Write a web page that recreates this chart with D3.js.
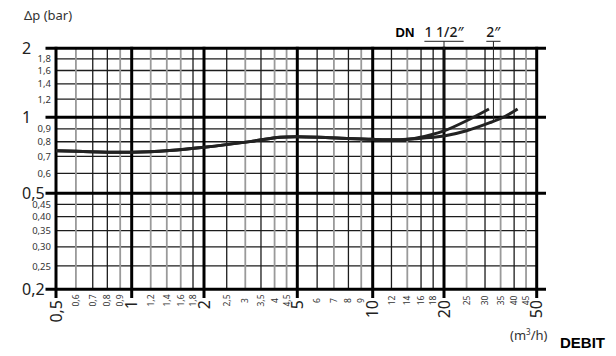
<!DOCTYPE html>
<html><head><meta charset="utf-8">
<script src="https://cdn.jsdelivr.net/npm/d3@7"></script>
<style>body{margin:0;background:#fff}svg{display:block}</style>
</head><body>
<svg id="c" width="616" height="356"></svg>
<script>
// ---- data ----
const xMajor = [0.5, 1, 2, 5, 10, 20, 50];
const xMajorLabels = ["0,5", "1", "2", "5", "10", "20", "50"];
const xMinor = [0.6, 0.7, 0.8, 0.9, 1.2, 1.4, 1.6, 1.8, 2.5, 3, 3.5, 4, 4.5, 6, 7, 8, 9, 12, 14, 16, 18, 25, 30, 35, 40, 45];
const xMinorLabels = ["0,6", "0,7", "0,8", "0,9", "1,2", "1,4", "1,6", "1,8", "2,5", "3", "3,5", "4", "4,5", "6", "7", "8", "9", "12", "14", "16", "18", "25", "30", "35", "40", "45"];
const yMajor = [0.2, 0.5, 1, 2];
const yMajorLabels = ["0,2", "0,5", "1", "2"];
const yMinor = [0.25, 0.3, 0.35, 0.4, 0.45, 0.6, 0.7, 0.8, 0.9, 1.2, 1.4, 1.6, 1.8];
const yMinorLabels = ["0,25", "0,30", "0,35", "0,40", "0,45", "0,6", "0,7", "0,8", "0,9", "1,2", "1,4", "1,6", "1,8"];

const flowDN40 = [0.5, 0.68, 1, 1.44, 2, 3.14, 4.22, 5, 6.75, 10, 13, 14.4, 17.5, 20, 25, 31.2];
const dpDN40   = [0.737, 0.731, 0.727, 0.739, 0.761, 0.801, 0.834, 0.838, 0.830, 0.818, 0.815, 0.820, 0.851, 0.883, 0.969, 1.087];
const flowDN50 = [0.5, 0.68, 1, 1.44, 2, 3.14, 4.22, 5, 6.75, 10, 13, 14.4, 17.5, 20, 25, 31.5, 36.5, 41.4];
const dpDN50   = [0.737, 0.731, 0.727, 0.739, 0.761, 0.801, 0.834, 0.838, 0.830, 0.818, 0.815, 0.820, 0.832, 0.843, 0.885, 0.952, 1.008, 1.087];

const dnLabels = ["1 1/2\u2033", "2\u2033"];
const dnMarkFlow = [20, 32.6];
const dnMarkDp = [0.883, 0.97];

// style: lighter minor verticals
const lightX = [0.6, 0.9, 1.2, 1.4, 1.6, 3, 4, 4.5, 7, 9, 14, 25, 35, 45];

// ---- scales ----
const x = d3.scaleLog().domain(xMajor).range([56, 131.7, 204, 297.3, 372.7, 444, 536.7]);
const y = d3.scaleLog().domain(yMajor).range([289.3, 193.3, 117.3, 48.3]);

const svg = d3.select("#c");
const dark = "#1c1c1c";
const font = "'Noto Sans', sans-serif";
const yTop = y(2), yBot = y(0.2), xLeft = x(0.5), xRight = x(50);

// minor horizontal grid
svg.append("g").selectAll("line").data(yMinor).join("line")
  .attr("x1", xLeft).attr("x2", xRight).attr("y1", d => y(d)).attr("y2", d => y(d))
  .attr("stroke", dark).attr("stroke-width", 1.3);
// minor vertical grid
svg.append("g").selectAll("line").data(xMinor).join("line")
  .attr("x1", d => x(d)).attr("x2", d => x(d)).attr("y1", yTop).attr("y2", yBot)
  .attr("stroke", d => lightX.includes(d) ? "#9a9a9a" : dark)
  .attr("stroke-width", d => lightX.includes(d) ? 1.8 : 1.3);
// major horizontal
svg.append("g").selectAll("line").data(yMajor).join("line")
  .attr("x1", 45.5).attr("x2", 546).attr("y1", d => y(d)).attr("y2", d => y(d))
  .attr("stroke", "#000").attr("stroke-width", 3);
// major vertical
svg.append("g").selectAll("line").data(xMajor).join("line")
  .attr("x1", d => x(d)).attr("x2", d => x(d)).attr("y1", yTop - 1.5).attr("y2", 298)
  .attr("stroke", "#000").attr("stroke-width", 3);

// curves
const line = d3.line().x(d => x(d[0])).y(d => y(d[1])).curve(d3.curveCatmullRom.alpha(0.5));
[[flowDN40, dpDN40], [flowDN50, dpDN50]].forEach(([f, p]) => {
  svg.append("path").datum(f.map((v, i) => [v, p[i]]))
    .attr("d", line).attr("fill", "none").attr("stroke", "#222").attr("stroke-width", 3);
});

// y labels
svg.append("g").selectAll("text").data(yMajor).join("text")
  .attr("x", 22).attr("y", d => y(d)).attr("dy", "0.36em")
  .attr("font-family", font).attr("font-size", 16).attr("fill", "#222")
  .text((d, i) => yMajorLabels[i]);
svg.append("g").selectAll("text").data(yMinor).join("text")
  .attr("x", 51).attr("y", d => y(d)).attr("dy", "0.38em").attr("text-anchor", "end")
  .attr("font-family", font).attr("font-size", 9.5).attr("fill", "#333")
  .text((d, i) => yMinorLabels[i]);

// x labels (rotated)
svg.append("g").selectAll("text").data(xMajor).join("text")
  .attr("transform", d => `translate(${x(d)},300) rotate(-90)`)
  .attr("text-anchor", "end").attr("dy", "0.36em")
  .attr("font-family", font).attr("font-size", 16).attr("fill", "#222")
  .text((d, i) => xMajorLabels[i]);
svg.append("g").selectAll("text").data(xMinor).join("text")
  .attr("transform", d => `translate(${x(d)},300.5) rotate(-90)`)
  .attr("text-anchor", "middle").attr("dy", "0.36em")
  .attr("font-family", font).attr("font-size", 8.5).attr("fill", "#333")
  .text((d, i) => xMinorLabels[i]);

// axis titles
svg.append("text").attr("x", 24).attr("y", 19.5)
  .attr("font-family", font).attr("font-size", 13).attr("fill", "#333").text("\u0394p (bar)");
const unit = svg.append("text").attr("x", 510).attr("y", 340)
  .attr("font-family", font).attr("font-size", 13).attr("fill", "#333");
unit.append("tspan").text("(m");
unit.append("tspan").attr("font-size", 8).attr("dy", -5).text("3");
unit.append("tspan").attr("dy", 5).text("/h)");
svg.append("text").attr("x", 560).attr("y", 347.5)
  .attr("font-family", "'Liberation Sans', Arial, sans-serif").attr("font-weight", "bold")
  .attr("font-size", 15).attr("fill", "#000").text("DEBIT");

// DN labels
svg.append("text").attr("x", 395.5).attr("y", 37.3)
  .attr("font-family", "'Liberation Sans', Arial, sans-serif").attr("font-weight", "bold")
  .attr("font-size", 13).attr("fill", "#000").text("DN");
dnLabels.forEach((lab, i) => {
  const cx = x(dnMarkFlow[i]);
  const t = svg.append("text").attr("x", cx).attr("y", 37.3).attr("text-anchor", "middle")
    .attr("font-family", font).attr("font-weight", 500).attr("font-size", 14).attr("fill", "#1a1a1a").text(lab);
  const w = t.node().getComputedTextLength();
  svg.append("line").attr("x1", cx - w / 2).attr("x2", cx + w / 2).attr("y1", 41.3).attr("y2", 41.3)
    .attr("stroke", "#222").attr("stroke-width", 1);
  svg.append("line").attr("x1", cx).attr("x2", cx).attr("y1", 41.3).attr("y2", y(dnMarkDp[i]))
    .attr("stroke", "#222").attr("stroke-width", 1);
});
</script>
</body></html>
